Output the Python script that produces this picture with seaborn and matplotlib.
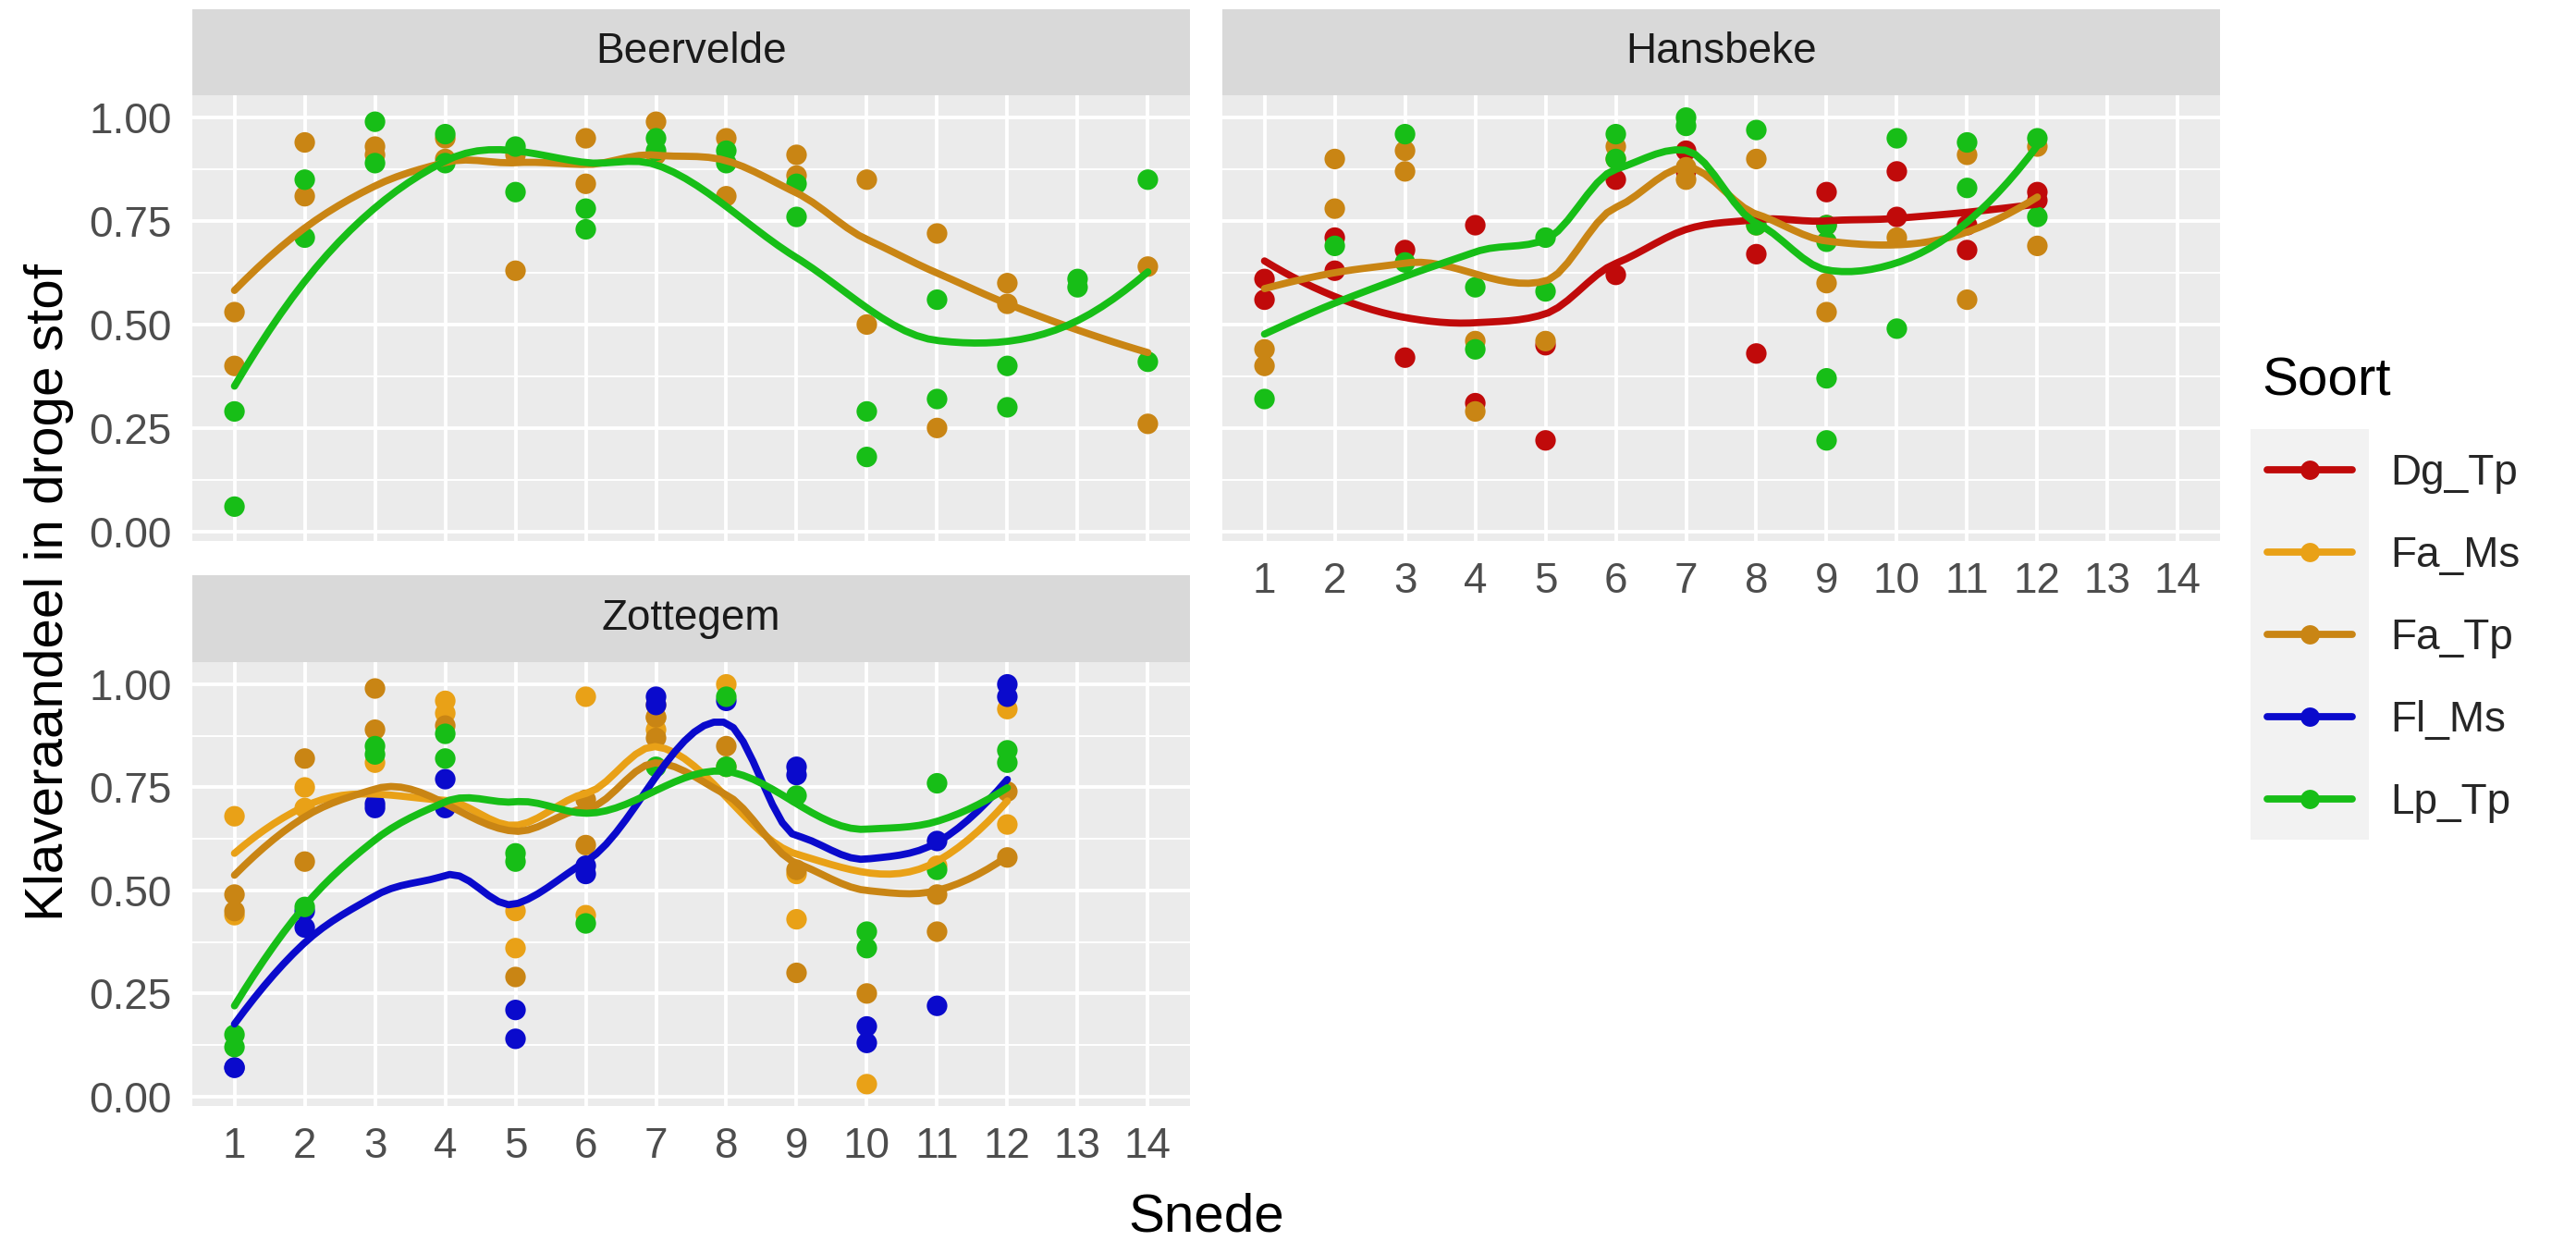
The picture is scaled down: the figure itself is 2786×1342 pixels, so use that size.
import numpy as np
import pandas as pd
import matplotlib
matplotlib.use("Agg")
import matplotlib.pyplot as plt
import seaborn as sns
from matplotlib.lines import Line2D
from matplotlib.patches import Rectangle

sns.set_style("white")
plt.rcParams["font.family"] = ["Liberation Sans", "DejaVu Sans"]

# clover share per cut ("snede"), one list of replicate values per cut
beervelde_fa_tp = [[0.53, 0.40], [0.94, 0.81], [0.93, 0.91], [0.95, 0.90], [0.91, 0.63],
                   [0.95, 0.84], [0.99, 0.91], [0.95, 0.81], [0.91, 0.86], [0.85, 0.50],
                   [0.72, 0.25], [0.60, 0.55], [], [0.64, 0.26]]
beervelde_lp_tp = [[0.29, 0.06], [0.85, 0.71], [0.99, 0.89], [0.96, 0.89], [0.93, 0.82],
                   [0.78, 0.73], [0.95, 0.92], [0.92, 0.89], [0.84, 0.76], [0.29, 0.18],
                   [0.56, 0.32], [0.40, 0.30], [0.61, 0.59], [0.85, 0.41]]

hansbeke_dg_tp = [[0.61, 0.56], [0.71, 0.63], [0.68, 0.42], [0.74, 0.31], [0.45, 0.22],
                  [0.85, 0.62], [0.92, 0.87], [0.67, 0.43], [0.82, 0.74], [0.87, 0.76],
                  [0.74, 0.68], [0.82, 0.80]]
hansbeke_fa_tp = [[0.44, 0.40], [0.90, 0.78], [0.92, 0.87], [0.46, 0.29], [0.46],
                  [0.93, 0.90], [0.88, 0.85], [0.90, 0.74], [0.60, 0.53], [0.71],
                  [0.91, 0.56], [0.93, 0.69]]
hansbeke_lp_tp = [[0.32], [0.69], [0.96, 0.65], [0.59, 0.44], [0.71, 0.58],
                  [0.96, 0.90], [1.00, 0.98], [0.97, 0.74], [0.74, 0.70, 0.37, 0.22],
                  [0.95, 0.49], [0.94, 0.83], [0.95, 0.76]]

zottegem_fa_ms = [[0.68, 0.44], [0.75, 0.70], [0.81], [0.96, 0.93], [0.45, 0.36],
                  [0.97, 0.44], [0.95, 0.92, 0.89], [1.00], [0.54, 0.43], [0.03],
                  [0.56], [0.94, 0.66]]
zottegem_fa_tp = [[0.49, 0.45], [0.82, 0.57], [0.99, 0.89], [0.90], [0.29],
                  [0.72, 0.61], [0.92, 0.87], [0.85, 0.80], [0.55, 0.30], [0.25],
                  [0.49, 0.40], [0.74, 0.58]]
zottegem_fl_ms = [[0.07, 0.07], [0.45, 0.41], [0.71, 0.70], [0.77, 0.70], [0.21, 0.14],
                  [0.56, 0.54], [0.97, 0.95], [0.96], [0.80, 0.78], [0.17, 0.13],
                  [0.62, 0.22], [1.00, 0.97]]
zottegem_lp_tp = [[0.15, 0.12], [0.46], [0.85, 0.83], [0.88, 0.82], [0.59, 0.57],
                  [0.42], [0.80], [0.97, 0.80], [0.73], [0.40, 0.36],
                  [0.76, 0.55], [0.84, 0.81]]

soorten = ["Dg_Tp", "Fa_Ms", "Fa_Tp", "Fl_Ms", "Lp_Tp"]
kleuren = ["#C00A0A", "#E9A117", "#C98514", "#0A0ACC", "#17BE17"]
palette = dict(zip(soorten, kleuren))

data = {
    "Beervelde": {"Fa_Tp": beervelde_fa_tp, "Lp_Tp": beervelde_lp_tp},
    "Hansbeke": {"Dg_Tp": hansbeke_dg_tp, "Fa_Tp": hansbeke_fa_tp, "Lp_Tp": hansbeke_lp_tp},
    "Zottegem": {"Fa_Ms": zottegem_fa_ms, "Fa_Tp": zottegem_fa_tp,
                 "Fl_Ms": zottegem_fl_ms, "Lp_Tp": zottegem_lp_tp},
}

rows = []
for loc, per_soort in data.items():
    for soort, cuts in per_soort.items():
        for snede, vals in enumerate(cuts, start=1):
            for v in vals:
                rows.append((loc, soort, snede, v))
df = pd.DataFrame(rows, columns=["locatie", "Soort", "Snede", "aandeel"])


def local_fit(x, y, g, q):
    # weighted local quadratic with tricube weights -> value and slope at g
    d = np.abs(x - g)
    h = np.sort(d)[q - 1] * 1.0001 + 1e-9
    w = np.clip(1 - (d / h) ** 3, 0, None) ** 3
    X = np.column_stack([np.ones_like(x), x - g, (x - g) ** 2])
    sw = np.sqrt(w)
    beta = np.linalg.lstsq(X * sw[:, None], y * sw, rcond=None)[0]
    return beta[0], beta[1]


def loess(x, y, grid, span=0.75):
    # R-style loess: fits at kd-tree vertices, cubic Hermite interpolation between
    x = np.asarray(x, float)
    y = np.asarray(y, float)
    xs = np.sort(x)
    n = len(x)
    q = int(np.floor(n * span))
    fc = int(np.floor(n * span * 0.2))
    mu = 0.005 * (xs[-1] - xs[0])
    verts = [xs[0] - mu, xs[-1] + mu]

    def split(l, u, lo, hi):
        if u - l + 1 <= fc:
            return
        m = (l + u) // 2
        for off in range(0, u - l + 1):
            for mm in (m + off, m - off):
                if l <= mm < u and xs[mm] != xs[mm + 1]:
                    v = xs[mm]
                    if v == lo or v == hi:
                        return
                    verts.append(v)
                    split(l, mm, lo, v)
                    split(mm + 1, u, v, hi)
                    return

    split(0, n - 1, verts[0], verts[1])
    verts = np.unique(verts)
    vals = np.array([local_fit(x, y, v, q) for v in verts])
    out = []
    for g in grid:
        i = min(np.searchsorted(verts, g, side="right") - 1, len(verts) - 2)
        a, b = verts[i], verts[i + 1]
        hh = b - a
        t = (g - a) / hh
        f0, d0 = vals[i]
        f1, d1 = vals[i + 1]
        out.append((2 * t**3 - 3 * t**2 + 1) * f0 + (t**3 - 2 * t**2 + t) * hh * d0
                   + (-2 * t**3 + 3 * t**2) * f1 + (t**3 - t**2) * hh * d1)
    return np.array(out)


smooth_rows = []
for (loc, soort), g in df.groupby(["locatie", "Soort"]):
    grid = np.linspace(g["Snede"].min(), g["Snede"].max(), 80)
    for gx, gy in zip(grid, loess(g["Snede"], g["aandeel"], grid)):
        smooth_rows.append((loc, soort, gx, gy))
smooth = pd.DataFrame(smooth_rows, columns=["locatie", "Soort", "Snede", "aandeel"])

W, H = 2786, 1342
fig = plt.figure(figsize=(W / 200, H / 200), dpi=200)


def px(left, top, right, bottom):
    return [left / W, 1 - bottom / H, (right - left) / W, (bottom - top) / H]


panels = {
    "Beervelde": (208, 103, 1287, 585, 10),
    "Hansbeke": (1322, 103, 2401, 585, 10),
    "Zottegem": (208, 716, 1287, 1196, 622),
}

for loc, (l, t, r, b, st) in panels.items():
    ax = fig.add_axes(px(l, t, r, b))
    sax = fig.add_axes(px(l, st, r, t))
    sax.set_facecolor("#D9D9D9")
    sax.set_xticks([])
    sax.set_yticks([])
    for s in sax.spines.values():
        s.set_visible(False)
    sax.text(0.5, 0.5, loc, ha="center", va="center", fontsize=16.5, color="#1A1A1A",
             transform=sax.transAxes)

    sub = df[df["locatie"] == loc]
    sns.scatterplot(data=sub, x="Snede", y="aandeel", hue="Soort", palette=palette,
                    s=64, linewidth=0, legend=False, ax=ax, zorder=3)
    sm = smooth[smooth["locatie"] == loc]
    sns.lineplot(data=sm, x="Snede", y="aandeel", hue="Soort", palette=palette,
                 linewidth=2.8, legend=False, ax=ax, zorder=4, sort=False)

    ax.set_facecolor("#EBEBEB")
    ax.set_xlim(0.4, 14.6)
    ax.set_ylim(-0.023, 1.054)
    ax.set_xticks(range(1, 15))
    ax.set_yticks([0, 0.25, 0.5, 0.75, 1.0])
    ax.set_yticks([0.125, 0.375, 0.625, 0.875], minor=True)
    ax.grid(which="major", color="white", linewidth=1.4)
    ax.grid(which="minor", axis="y", color="white", linewidth=0.7)
    ax.set_axisbelow(True)
    for s in ax.spines.values():
        s.set_visible(False)
    ax.tick_params(which="major", length=4, width=1.3, color="#333333",
                   labelcolor="#4D4D4D", labelsize=16.5, pad=4)
    ax.tick_params(which="minor", length=0)
    ax.set_xlabel("")
    ax.set_ylabel("")
    if loc == "Beervelde":
        ax.tick_params(axis="x", which="both", bottom=False, labelbottom=False)
    if loc == "Hansbeke":
        ax.tick_params(axis="y", which="both", left=False, labelleft=False)
    ax.set_yticklabels(["0.00", "0.25", "0.50", "0.75", "1.00"])

fig.text(1305 / W, 1 - 1316 / H, "Snede", ha="center", va="center", fontsize=21, color="black")
fig.text(53 / W, 1 - 641 / H, "Klaveraandeel in droge stof", ha="center", va="center",
         rotation=90, fontsize=21, color="black")

# legend: title as its own text, keys as line + point
fig.text(2446 / W, 1 - 412 / H, "Soort", ha="left", va="center", fontsize=21, color="black")
handles = [Line2D([], [], color=c, linewidth=2.8, marker="o", markersize=7.5,
                  markeredgewidth=0) for c in kleuren]
leg = fig.legend(handles, soorten, loc="center left",
                 bbox_to_anchor=(2434 / W, 1 - 690 / H), frameon=False, fontsize=16.5,
                 handlelength=2.0, handletextpad=0.9, labelspacing=0.98, borderaxespad=0)

# grey key background behind the legend keys
fig.canvas.draw()
renderer = fig.canvas.get_renderer()
boxes = [h.get_window_extent(renderer) for h in leg.legend_handles]
x0 = min(bb.x0 for bb in boxes) - 8
x1 = max(bb.x1 for bb in boxes) + 8
ys = sorted(((bb.y0 + bb.y1) / 2) for bb in boxes)
half = (ys[1] - ys[0]) / 2
fig.patches.append(Rectangle((x0, ys[0] - half), x1 - x0, ys[-1] - ys[0] + 2 * half,
                             transform=None, facecolor="#F2F2F2", edgecolor="none",
                             zorder=-1))

fig.savefig("out.png", dpi=200)
